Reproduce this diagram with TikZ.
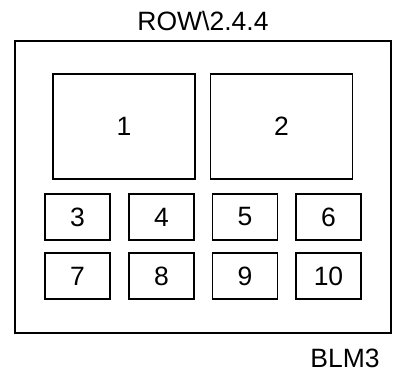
\documentclass[tikz,border=0pt]{standalone}
\usepackage{fontspec}
\setmainfont{Liberation Sans}
\usetikzlibrary{positioning}

\begin{document}
\begin{tikzpicture}[x=1bp, y=-1bp, line width=1.3bp,
    every node/.style={font=\fontsize{26.5bp}{31bp}\selectfont},
    bigbox/.style={rectangle, draw, minimum width=142bp, minimum height=105bp},
    smallbox/.style={rectangle, draw, minimum width=65bp, minimum height=46bp}]
    \useasboundingbox (0,0) rectangle (398,374);
    \node[rectangle, draw, minimum width=376bp, minimum height=292bp] (frame) at (203,187) {};
    \node (title) at (203,21) {ROW\textbackslash 2.4.4};
    \node (blm) at (345,358) {BLM3};

    \node[bigbox] (b1) at (124,126.5) {1};
    \node[bigbox] (b2) at (281.5,126.5) {2};

    % small boxes, two rows
    \node[smallbox] (b3) at (77.5,217) {3};
    \node[smallbox] (b4) at (161.5,217) {4};
    \node[smallbox] (b5) at (245,217) {5};
    \node[smallbox] (b6) at (328.5,217) {6};
    \node[smallbox] (b7) at (77.5,276) {7};
    \node[smallbox] (b8) at (161.5,276) {8};
    \node[smallbox] (b9) at (245,276) {9};
    \node[smallbox] (b10) at (328.5,276) {10};
\end{tikzpicture}
\end{document}
